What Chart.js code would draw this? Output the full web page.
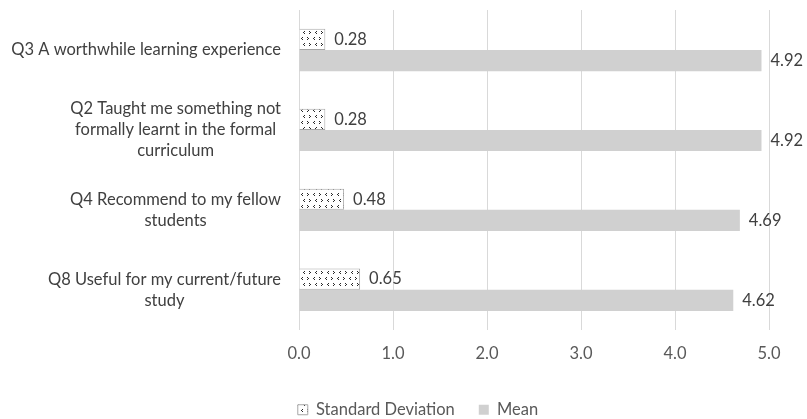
<!DOCTYPE html>
<html>
<head>
<meta charset="utf-8">
<script src="https://cdn.jsdelivr.net/npm/chart.js@4/dist/chart.umd.min.js"></script>
<style>
  html, body { margin: 0; padding: 0; background: #ffffff; }
  #wrap { width: 807px; height: 419px; position: relative; }
</style>
</head>
<body>
<div id="wrap"><canvas id="chart" width="807" height="419"></canvas></div>
<script>
// Survey items (each entry is one label, split into its display lines)
const categories = [
  ["Q3 A worthwhile learning experience"],
  ["Q2 Taught me something not", "formally learnt in the formal", "curriculum"],
  ["Q4 Recommend to my fellow", "students"],
  ["Q8 Useful for my current/future", "study"]
];
const stdDevValues = [0.28, 0.28, 0.48, 0.65];
const meanValues = [4.92, 4.92, 4.69, 4.62];
const xTicks = [0, 1, 2, 3, 4, 5];

const FONT = "Lato, 'Open Sans', sans-serif";

// Speckled fill for the standard deviation bars: tiny dark chevrons on white
function makeSpeckle() {
  const c = document.createElement('canvas');
  c.width = 12; c.height = 12;
  const g = c.getContext('2d');
  g.fillStyle = '#ffffff';
  g.fillRect(0, 0, 12, 12);
  g.fillStyle = '#2a2a2a';
  const marks = [
    [2,1],[1,2],[2,3],            // "<"
    [7,1],[8,2],[7,3],            // ">"
    [4,7],[3,8],[4,9],            // "<"
    [9,7],[10,8],[9,9]            // ">"
  ];
  marks.forEach(([x, y]) => g.fillRect(x, y, 1, 1));
  return g.createPattern(c, 'repeat');
}
const speckle = makeSpeckle();

// Category labels: block right-aligned to the axis, lines centred within the block
const categoryLabels = {
  id: 'categoryLabels',
  afterDraw(chart) {
    const ctx = chart.ctx;
    const y = chart.scales.y;
    const right = chart.chartArea.left - 18;
    ctx.save();
    ctx.font = "16.5px " + FONT;
    ctx.fillStyle = '#404040';
    ctx.textAlign = 'center';
    ctx.textBaseline = 'middle';
    const lh = 21;
    categories.forEach((lines, i) => {
      const w = Math.max(...lines.map(l => ctx.measureText(l).width));
      const cx = right - w / 2;
      const cy = y.getPixelForValue(i);
      const top = cy - (lines.length - 1) * lh / 2;
      lines.forEach((l, k) => ctx.fillText(l, cx, top + k * lh));
    });
    ctx.restore();
  }
};

// Value labels just past the end of each bar
const valueLabels = {
  id: 'valueLabels',
  afterDatasetsDraw(chart) {
    const ctx = chart.ctx;
    ctx.save();
    ctx.font = "16.5px " + FONT;
    ctx.fillStyle = '#404040';
    ctx.textAlign = 'left';
    ctx.textBaseline = 'middle';
    chart.data.datasets.forEach((ds, di) => {
      chart.getDatasetMeta(di).data.forEach((el, i) => {
        ctx.fillText(ds.data[i].toFixed(2), el.x + 9, el.y);
      });
    });
    ctx.restore();
  }
};

new Chart(document.getElementById('chart'), {
  type: 'bar',
  data: {
    labels: categories.map(l => l.join(' ')),
    datasets: [
      {
        label: 'Standard Deviation',
        data: stdDevValues,
        backgroundColor: speckle,
        borderColor: '#a6a6a6',
        borderWidth: 1,
        categoryPercentage: 0.53,
        barPercentage: 1.0
      },
      {
        label: 'Mean',
        data: meanValues,
        backgroundColor: '#d0d0d0',
        borderWidth: 0,
        categoryPercentage: 0.53,
        barPercentage: 1.0
      }
    ]
  },
  options: {
    indexAxis: 'y',
    responsive: false,
    animation: false,
    layout: { padding: { left: 67, right: 38, top: 10, bottom: -9 } },
    scales: {
      x: {
        min: 0,
        max: 5,
        afterBuildTicks(scale) { scale.ticks = xTicks.map(v => ({ value: v })); },
        grid: { color: '#d9d9d9', lineWidth: 1, drawTicks: false },
        border: { display: false },
        ticks: {
          padding: 14,
          color: '#595959',
          font: { family: FONT, size: 16.5 },
          callback: v => Number(v).toFixed(1)
        }
      },
      y: {
        // space reserved for the multi-line category labels drawn by categoryLabels
        afterFit(scale) { scale.width = 232; },
        ticks: { display: false },
        grid: { display: false },
        border: { display: false }
      }
    },
    plugins: {
      legend: {
        position: 'bottom',
        labels: {
          boxWidth: 10,
          boxHeight: 10,
          padding: 24,
          color: '#595959',
          font: { family: FONT, size: 16.5 }
        }
      },
      tooltip: { enabled: false }
    }
  },
  plugins: [categoryLabels, valueLabels]
});
</script>
</body>
</html>
